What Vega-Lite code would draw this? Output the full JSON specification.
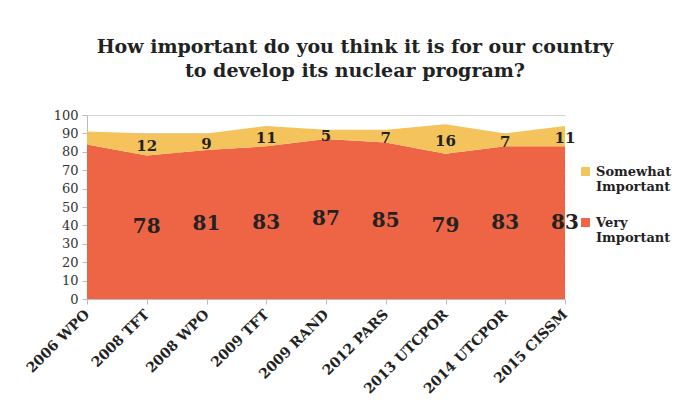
{
  "$schema": "https://vega.github.io/schema/vega-lite/v6.json",
  "width": 478,
  "height": 184,
  "autosize": "none",
  "padding": {"left": 87, "top": 115, "right": 129, "bottom": 115},
  "background": "white",
  "title": {
    "text": ["How important do you think it is for our country", "to develop its nuclear program?"],
    "font": "DejaVu Serif",
    "fontSize": 19,
    "fontWeight": "bold",
    "color": "#222222",
    "anchor": "middle",
    "frame": "group",
    "dx": 29,
    "offset": 28,
    "lineHeight": 24
  },
  "data": {
    "values": [
      {"source": "2006 WPO", "category": "Very Important", "value": 84},
      {"source": "2006 WPO", "category": "Somewhat Important", "value": 7},
      {"source": "2008 TFT", "category": "Very Important", "value": 78},
      {"source": "2008 TFT", "category": "Somewhat Important", "value": 12},
      {"source": "2008 WPO", "category": "Very Important", "value": 81},
      {"source": "2008 WPO", "category": "Somewhat Important", "value": 9},
      {"source": "2009 TFT", "category": "Very Important", "value": 83},
      {"source": "2009 TFT", "category": "Somewhat Important", "value": 11},
      {"source": "2009 RAND", "category": "Very Important", "value": 87},
      {"source": "2009 RAND", "category": "Somewhat Important", "value": 5},
      {"source": "2012 PARS", "category": "Very Important", "value": 85},
      {"source": "2012 PARS", "category": "Somewhat Important", "value": 7},
      {"source": "2013 UTCPOR", "category": "Very Important", "value": 79},
      {"source": "2013 UTCPOR", "category": "Somewhat Important", "value": 16},
      {"source": "2014 UTCPOR", "category": "Very Important", "value": 83},
      {"source": "2014 UTCPOR", "category": "Somewhat Important", "value": 7},
      {"source": "2015 CISSM", "category": "Very Important", "value": 83},
      {"source": "2015 CISSM", "category": "Somewhat Important", "value": 11}
    ]
  },
  "encoding": {
    "x": {
      "field": "source",
      "type": "ordinal",
      "sort": null,
      "scale": {"type": "point", "padding": 0},
      "axis": {
        "title": null,
        "labelAngle": -45,
        "labelAlign": "right",
        "labelBaseline": "middle",
        "labelFont": "DejaVu Serif",
        "labelFontWeight": "bold",
        "labelFontSize": 14,
        "labelColor": "#222222",
        "labelPadding": 8,
        "domainColor": "#bbbbbb",
        "tickColor": "#bbbbbb",
        "tickSize": 5,
        "grid": false
      }
    }
  },
  "layer": [
    {
      "mark": {"type": "area", "opacity": 1, "interpolate": "linear"},
      "encoding": {
        "y": {
          "field": "value",
          "type": "quantitative",
          "stack": "zero",
          "scale": {"domain": [0, 100]},
          "axis": {"title": null, "values": [0, 10, 20, 30, 40, 50, 60, 70, 80, 90, 100]}
        },
        "color": {
          "field": "category",
          "type": "nominal",
          "scale": {"domain": ["Somewhat Important", "Very Important"], "range": ["#F5C35C", "#EE6546"]},
          "legend": {
            "title": null,
            "orient": "none",
            "legendX": 492,
            "legendY": 50,
            "symbolType": "square",
            "symbolSize": 80,
            "symbolStrokeWidth": 0,
            "symbolOpacity": 1,
            "labelFont": "DejaVu Serif",
            "labelFontWeight": "bold",
            "labelFontSize": 13,
            "labelColor": "#222222",
            "labelExpr": "split(datum.label, ' ')",
            "labelLineHeight": 15,
            "rowPadding": 22
          }
        },
        "order": {"field": "category", "sort": "descending"}
      }
    },
    {
      "transform": [
        {"stack": "value", "groupby": ["source"], "sort": [{"field": "category", "order": "descending"}], "as": ["v0", "v1"]},
        {"fold": ["v0", "v1"], "as": ["edge", "pos"]},
        {"aggregate": [{"op": "mean", "field": "pos", "as": "mid"}], "groupby": ["source", "category", "value"]},
        {"filter": "datum.source != '2006 WPO' && datum.category == 'Very Important'"}
      ],
      "mark": {"type": "text", "font": "DejaVu Serif", "fontWeight": "bold", "fontSize": 20, "color": "#222222"},
      "encoding": {
        "y": {"field": "mid", "type": "quantitative", "axis": {"title": null, "values": [0, 10, 20, 30, 40, 50, 60, 70, 80, 90, 100]}},
        "text": {"field": "value", "type": "quantitative"}
      }
    },
    {
      "transform": [
        {"stack": "value", "groupby": ["source"], "sort": [{"field": "category", "order": "descending"}], "as": ["v0", "v1"]},
        {"fold": ["v0", "v1"], "as": ["edge", "pos"]},
        {"aggregate": [{"op": "mean", "field": "pos", "as": "mid"}], "groupby": ["source", "category", "value"]},
        {"filter": "datum.source != '2006 WPO' && datum.category == 'Somewhat Important'"}
      ],
      "mark": {"type": "text", "font": "DejaVu Serif", "fontWeight": "bold", "fontSize": 15, "color": "#222222", "dy": 2},
      "encoding": {
        "y": {"field": "mid", "type": "quantitative", "axis": {"title": null, "values": [0, 10, 20, 30, 40, 50, 60, 70, 80, 90, 100]}},
        "text": {"field": "value", "type": "quantitative"}
      }
    }
  ],
  "config": {
    "view": {"stroke": null},
    "axisY": {
      "labelOverlap": false,
      "labelFont": "DejaVu Serif",
      "labelFontSize": 13,
      "labelColor": "#333333",
      "labelPadding": 4,
      "domainColor": "#bbbbbb",
      "tickColor": "#bbbbbb",
      "tickSize": 5,
      "gridColor": "#000000",
      "gridOpacity": 0.17,
      "zindex": 1
    }
  }
}
